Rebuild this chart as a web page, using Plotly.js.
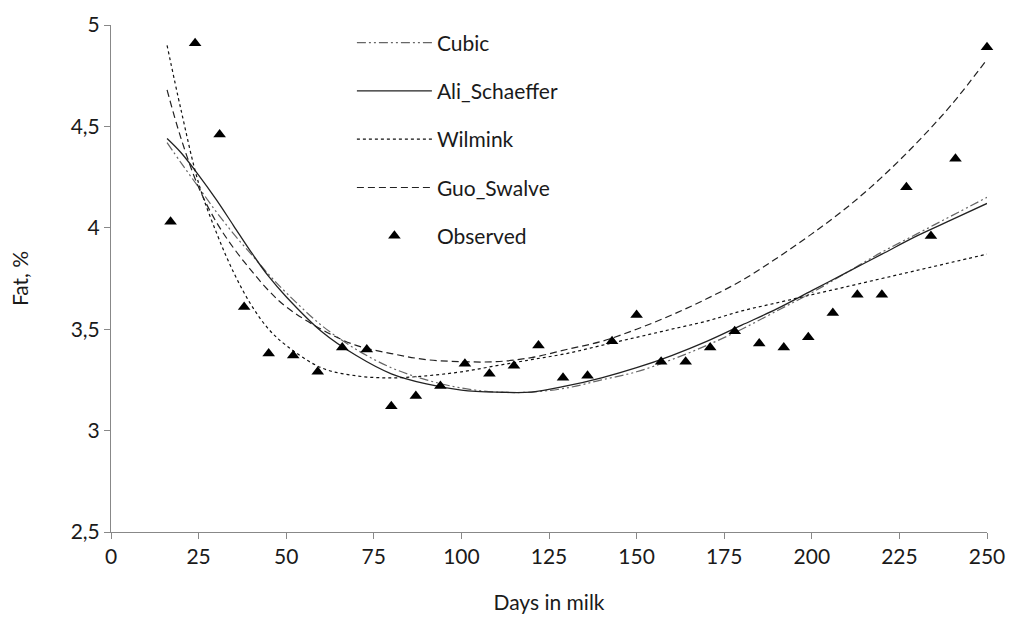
<!DOCTYPE html>
<html>
<head>
<meta charset="utf-8">
<script src="https://cdn.plot.ly/plotly-3.0.1.min.js"></script>
<style>html,body{margin:0;padding:0;background:#fff;}#chart{width:1014px;height:626px;}</style>
</head>
<body>
<div id="chart"></div>
<script>
// Fitted curves (Days in milk -> Fat, %)
const curveDays   = [16, 20, 25, 30, 35, 40, 45, 50, 60, 70, 80, 90, 100, 110, 120, 130, 140, 150, 160, 170, 180, 190, 200, 210, 220, 230, 240, 250];
const cubic       = [4.42, 4.32, 4.20, 4.08, 3.97, 3.87, 3.77, 3.68, 3.52, 3.40, 3.31, 3.25, 3.21, 3.19, 3.19, 3.21, 3.25, 3.29, 3.35, 3.42, 3.50, 3.59, 3.68, 3.78, 3.88, 3.97, 4.06, 4.15];
const aliSchaeffer= [4.44, 4.37, 4.26, 4.14, 4.01, 3.88, 3.76, 3.66, 3.49, 3.37, 3.28, 3.23, 3.20, 3.19, 3.19, 3.22, 3.26, 3.31, 3.37, 3.44, 3.52, 3.60, 3.69, 3.78, 3.87, 3.96, 4.04, 4.12];
const wilmink     = [4.90, 4.58, 4.22, 3.98, 3.78, 3.62, 3.50, 3.42, 3.31, 3.27, 3.26, 3.27, 3.29, 3.32, 3.35, 3.38, 3.42, 3.46, 3.50, 3.54, 3.59, 3.63, 3.67, 3.71, 3.75, 3.79, 3.83, 3.87];
const guoSwalve   = [4.68, 4.44, 4.20, 4.03, 3.90, 3.79, 3.69, 3.61, 3.50, 3.42, 3.38, 3.35, 3.34, 3.34, 3.36, 3.40, 3.44, 3.50, 3.57, 3.65, 3.74, 3.85, 3.97, 4.10, 4.25, 4.42, 4.61, 4.83];

// Observed test-day means
const obsDays = [17, 24, 31, 38, 45, 52, 59, 66, 73, 80, 87, 94, 101, 108, 115, 122, 129, 136, 143, 150, 157, 164, 171, 178, 185, 192, 199, 206, 213, 220, 227, 234, 241, 250];
const obsFat  = [4.03, 4.91, 4.46, 3.61, 3.38, 3.37, 3.29, 3.41, 3.40, 3.12, 3.17, 3.22, 3.33, 3.28, 3.32, 3.42, 3.26, 3.27, 3.44, 3.57, 3.34, 3.34, 3.41, 3.49, 3.43, 3.41, 3.46, 3.58, 3.67, 3.67, 4.20, 3.96, 4.34, 4.89];

const xTicks = [0, 25, 50, 75, 100, 125, 150, 175, 200, 225, 250];
const yTicks = [2.5, 3, 3.5, 4, 4.5, 5];

const FONT = 'Lato, "Open Sans", sans-serif';
const TXT = '#1a1a1a';

const traces = [
  {x: curveDays, y: cubic, name: 'Cubic', mode: 'lines', legendgroup: 'a',
   line: {color: '#666', width: 1.2, dash: '9px,3px,2px,3px,2px,3px', shape: 'spline'}},
  {x: curveDays, y: aliSchaeffer, name: 'Ali_Schaeffer', mode: 'lines', legendgroup: 'b',
   line: {color: '#222', width: 1.3, shape: 'spline'}},
  {x: curveDays, y: wilmink, name: 'Wilmink', mode: 'lines', legendgroup: 'c',
   line: {color: '#111', width: 1.2, dash: '3px,3px', shape: 'spline'}},
  {x: curveDays, y: guoSwalve, name: 'Guo_Swalve', mode: 'lines', legendgroup: 'd',
   line: {color: '#222', width: 1.2, dash: '7px,4px', shape: 'spline'}},
  {x: obsDays, y: obsFat, name: 'Observed', mode: 'markers', legendgroup: 'e', cliponaxis: false,
   marker: {symbol: 'triangle-up', size: 11, color: '#000'}}
];

const layout = {
  width: 1014, height: 626,
  margin: {l: 111, r: 27, t: 25, b: 94},
  paper_bgcolor: '#fff', plot_bgcolor: '#fff',
  separators: ', ',
  font: {family: FONT, size: 21, color: TXT},
  showlegend: true,
  legend: {x: 0.275, y: 1.005, xanchor: 'left', yanchor: 'top', bgcolor: 'rgba(0,0,0,0)',
           tracegroupgap: 18, itemwidth: 75, font: {family: FONT, size: 21, color: TXT}},
  xaxis: {range: [0, 250], tickvals: xTicks, showgrid: false, zeroline: false,
          showline: true, linecolor: '#888', linewidth: 1, ticks: 'outside', ticklen: 6,
          tickcolor: '#888', tickfont: {family: FONT, size: 21, color: TXT},
          title: {text: 'Days in milk', font: {family: FONT, size: 21, color: TXT}, standoff: 28}},
  yaxis: {range: [2.5, 5], tickvals: yTicks, showgrid: false, zeroline: false,
          showline: true, linecolor: '#888', linewidth: 1, ticks: 'outside', ticklen: 6,
          tickcolor: '#888', tickfont: {family: FONT, size: 21, color: TXT},
          title: {text: 'Fat, %', font: {family: FONT, size: 21, color: TXT}, standoff: 36}}
};

Plotly.newPlot('chart', traces, layout, {displayModeBar: false, staticPlot: true});
</script>
</body>
</html>
